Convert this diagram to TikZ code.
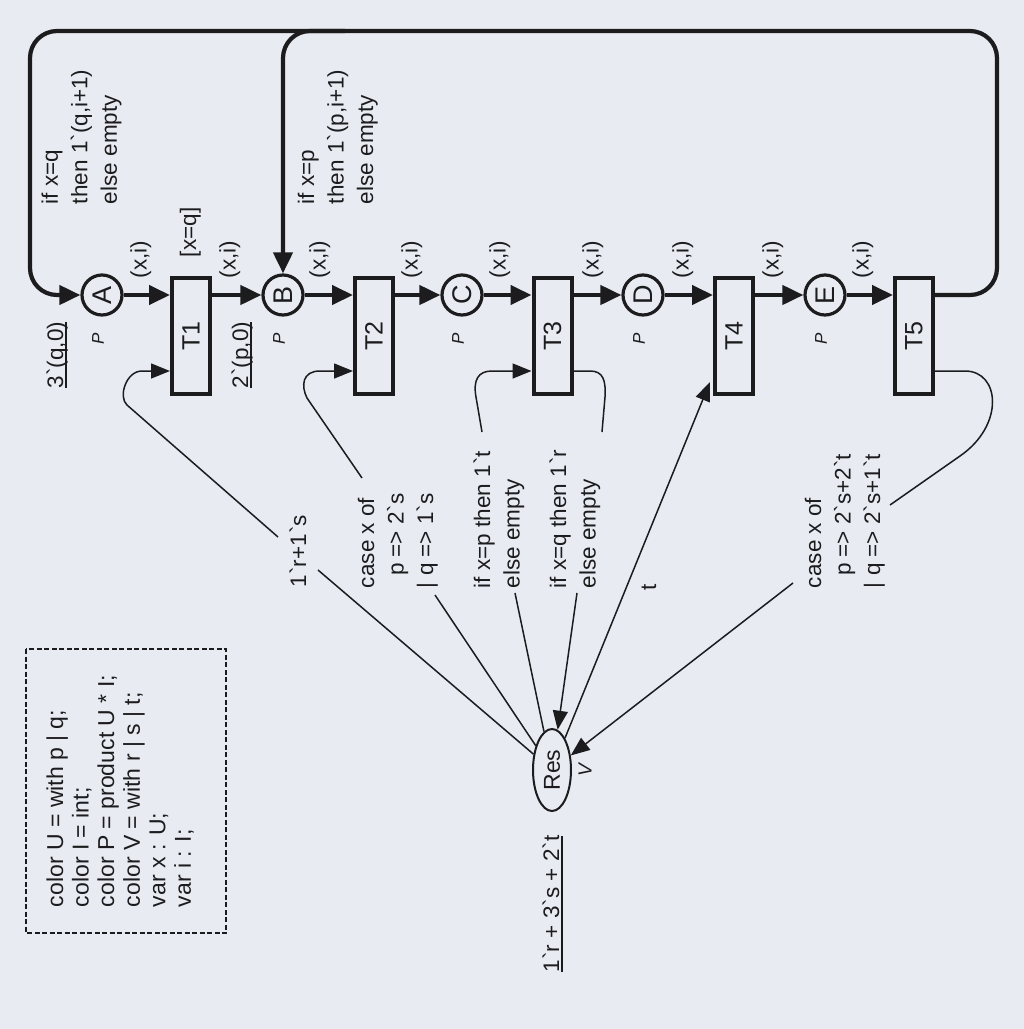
\documentclass[tikz,border=0pt]{standalone}
\usepackage{fontspec}
\setmainfont{Liberation Sans}
\newfontfamily\plainfont[Ligatures=ResetAll]{Liberation Sans}
\usetikzlibrary{arrows.meta,shapes.geometric}
\definecolor{bg}{RGB}{233,235,242}
\definecolor{ink}{RGB}{28,28,30}
\newcommand\bq{{\plainfont\symbol{96}}}
\newcommand\myul[1]{\setbox0\hbox{#1}\rlap{\rule[-3.5pt]{\wd0}{1.6pt}}\box0}
\newcommand\rlab[1]{\rotatebox{90}{\begin{tabular}{@{}l@{}}#1\end{tabular}}}
\newcommand\insc{\fontsize{22.5}{29.5}\selectfont}
\tikzset{
  bigtip/.tip={Triangle[length=21pt,width=19pt]},
  smalltip/.tip={Triangle[length=19pt,width=15pt]},
  thk/.style={draw=ink, line width=4.2pt, -{bigtip}},
  thn/.style={draw=ink, line width=1.5pt},
  place/.style={circle, draw=ink, line width=3.2pt, minimum size=40pt, inner sep=0pt, text=ink, font=\fontsize{27}{30}\selectfont},
  trans/.style={rectangle, draw=ink, line width=4pt, minimum width=38pt, minimum height=116pt, inner sep=0pt, text=ink, font=\fontsize{25}{28}\selectfont},
  rl/.style={anchor=south west, inner sep=0pt, outer sep=0pt, xshift=-20.65pt, font=\insc, text=ink},
  ptype/.style={inner sep=0pt, text=ink, font=\fontsize{17}{19}\selectfont\itshape},
}
\begin{document}
\begin{tikzpicture}[x=1pt,y=-1pt]
\fill[bg] (0,0) rectangle (1024,1029);
\useasboundingbox (0,0) rectangle (1024,1029);

% places
\node[place] (A) at (102,295) {\rotatebox{90}{A}};
\node[place] (B) at (283,295) {\rotatebox{90}{B}};
\node[place] (C) at (462,295) {\rotatebox{90}{C}};
\node[place] (D) at (643,295) {\rotatebox{90}{D}};
\node[place] (E) at (825,295) {\rotatebox{90}{E}};
% transitions
\node[trans] (T1) at (191,336) {\rotatebox{90}{T1}};
\node[trans] (T2) at (374,336) {\rotatebox{90}{T2}};
\node[trans] (T3) at (552.5,336) {\rotatebox{90}{T3}};
\node[trans] (T4) at (734,336) {\rotatebox{90}{T4}};
\node[trans] (T5) at (914,336) {\rotatebox{90}{T5}};
% resource place
\node[ellipse, draw=ink, line width=2pt, minimum width=38pt, minimum height=82pt, inner sep=0pt, text=ink, font=\fontsize{23}{26}\selectfont] (Res) at (552,770) {\rotatebox{90}{Res}};

% colour set labels
\node[ptype] (pA) at (98,339) {\rotatebox{90}{P}};
\node[ptype] (pB) at (279,339) {\rotatebox{90}{P}};
\node[ptype] (pC) at (458,339) {\rotatebox{90}{P}};
\node[ptype] (pD) at (639,339) {\rotatebox{90}{P}};
\node[ptype] (pE) at (821,339) {\rotatebox{90}{P}};
\node[ptype, font=\fontsize{19}{21}\selectfont\itshape] (pRes) at (585,770) {\rotatebox{90}{V}};

% main arcs
\draw[thk] (A) -- (A -| T1.west);
\draw[thk] (T1.east |- A) -- (B);
\draw[thk] (B) -- (B -| T2.west);
\draw[thk] (T2.east |- B) -- (C);
\draw[thk] (C) -- (C -| T3.west);
\draw[thk] (T3.east |- C) -- (D);
\draw[thk] (D) -- (D -| T4.west);
\draw[thk] (T4.east |- D) -- (E);
\draw[thk] (E) -- (E -| T5.west);

% feedback loops
\draw[thk, rounded corners=27pt] (T5.east |- E) -- (997,295) -- (997,31) -- (30,31) -- (30,295) -- (A);
\coordinate (jn) at (345,31);
\draw[thk, rounded corners=27pt] (jn) -| (B);

% arc inscriptions (x,i)
\node[rl] (x1) at (146.7,278) {\rlab{(x,i)}};
\node[rl] (x2) at (235.7,278) {\rlab{(x,i)}};
\node[rl] (x3) at (325.7,278) {\rlab{(x,i)}};
\node[rl] (x4) at (417.7,278) {\rlab{(x,i)}};
\node[rl] (x5) at (505.7,278) {\rlab{(x,i)}};
\node[rl] (x6) at (598.7,278) {\rlab{(x,i)}};
\node[rl] (x7) at (688.7,278) {\rlab{(x,i)}};
\node[rl] (x8) at (778.7,278) {\rlab{(x,i)}};
\node[rl] (x9) at (868.7,278) {\rlab{(x,i)}};
\node[rl] (g1) at (196,257) {\rlab{[x=q]}};

\node[rl] (i1) at (58,204) {\rlab{if x=q\\then 1\bq(q,i+1)\\else empty}};
\node[rl] (i2) at (314,204) {\rlab{if x=p\\then 1\bq(p,i+1)\\else empty}};

% initial markings
\node[rl] (m1) at (63,388) {\rlab{\myul{3\bq(q,0)}}};
\node[rl] (m2) at (248,388) {\rlab{\myul{2\bq(p,0)}}};
\node[rl] (m3) at (559,972) {\rlab{\myul{1\bq r + 3\bq s + 2\bq t}}};

% resource arc inscriptions
\node[rl] (a1) at (306,587) {\rlab{1\bq r+1\bq s}};
\node[rl] (a2) at (374,588) {\rlab{case x of\\\phantom{|\ }p => 2\bq s\\| q => 1\bq s}};
\node[rl] (a3) at (490,588) {\rlab{if x=p then 1\bq t\\else empty}};
\node[rl] (a4) at (566,588) {\rlab{if x=q then 1\bq r\\else empty}};
\node[rl] (a5) at (656,590) {\rlab{t}};
\node[rl] (a6) at (821,588) {\rlab{case x of\\\phantom{|\ }p => 2\bq s+2\bq t\\| q => 2\bq s+1\bq t}};

% resource arcs
\coordinate (y371) at (0,371);
\coordinate (r1a) at (318,570);
\coordinate (r1b) at (278,537);
\coordinate (r2a) at (435,595);
\coordinate (r2b) at (362,478);
\coordinate (r3a) at (515,593);
\coordinate (r3b) at (482,432);
\coordinate (r4a) at (577,593);
\coordinate (r4b) at (602,432);
\coordinate (t4in) at (710,382);
\coordinate (r6a) at (793,583);
\coordinate (r6b) at (890,505);

\draw[thn] (Res) -- (r1a);
\draw[thn, -{smalltip}] (r1b) -- (127,405) .. controls (118,397) and (126,371) .. (142,371) -- (T1.west |- y371);
\draw[thn] (Res) -- (r2a);
\draw[thn, -{smalltip}] (r2b) -- (307,398) .. controls (301,386) and (302,371) .. (320,371) -- (T2.west |- y371);
\draw[thn] (Res) -- (r3a);
\draw[thn, -{smalltip}] (r3b) -- (476,397) .. controls (473,380) and (478,371) .. (492,371) -- (T3.west |- y371);
\draw[thn] (T3.east |- y371) -- (590,371) .. controls (603,371) and (606,380) .. (605,397) -- (r4b);
\draw[thn, -{smalltip}] (r4a) -- (Res);
\draw[thn, -{smalltip}] (Res) -- (t4in);
\draw[thn] (T5.east |- y371) -- (965,371) .. controls (1000,371) and (1005,425) .. (960,456) -- (r6b);
\draw[thn, -{smalltip}] (r6a) -- (Res);

% declarations
\draw[ink, line width=1.8pt, dash pattern=on 5pt off 2.5pt] (26,649) rectangle (226,933);
\node[rl, font=\fontsize{23}{25.6}\selectfont, xshift=2.73pt] (decl) at (63,907) {\rlab{color U = with p | q;\\color I = int;\\color P = product U * I;\\color V = with r | s | t;\\var x : U;\\var i : I;}};
\end{tikzpicture}
\end{document}
